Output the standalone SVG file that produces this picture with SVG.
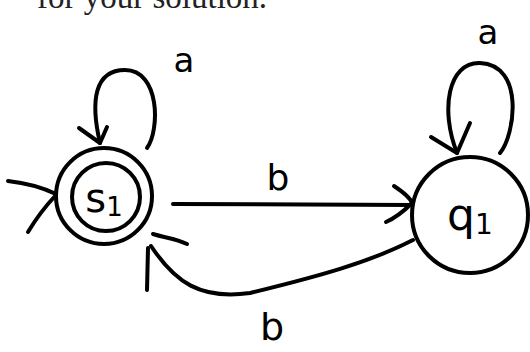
<svg xmlns="http://www.w3.org/2000/svg" width="530" height="352" viewBox="0 0 530 352">
<style>
.ln{fill:none;stroke:#000;stroke-width:4;stroke-linecap:round;stroke-linejoin:round}
.lbl{font-family:"DejaVu Sans","Liberation Sans",sans-serif;fill:#000}
.hdr{font-family:"Liberation Serif",serif;fill:#222;font-size:33px}
</style>
<rect width="530" height="352" fill="#fff"/>
<text class="hdr" x="37" y="8">for your solution.</text>
<g id="connectors">
  <g id="start">
    <path class="ln" d="M8,181 Q35,184 56,194"/>
    <path class="ln" d="M56,195 Q40,212 28,232"/>
  </g>
  <g id="loop-s1">
    <path class="ln" d="M147,148 C160,130 160,70 125,70 C95,70 90,100 100,143"/>
    <path class="ln" d="M79,128 L100,143 L107,127"/>
    <text class="lbl" x="184" y="72" font-size="34" text-anchor="middle">a</text>
  </g>
  <g id="s1-q1">
    <path class="ln" d="M173,204 L412,205"/>
    <path class="ln" d="M394,186 C400,190 410,197 412,203 C405,210 395,218 386,222"/>
    <text class="lbl" x="278" y="190" font-size="36" text-anchor="middle">b</text>
  </g>
  <g id="loop-q1">
    <path class="ln" d="M500,153 C515,135 525,65 480,63 C448,62 440,110 457,153"/>
    <path class="ln" d="M431,137 L457,153 L470,123"/>
    <text class="lbl" x="488" y="44" font-size="34" text-anchor="middle">a</text>
  </g>
  <g id="q1-s1">
    <path class="ln" d="M413,240 C370,262 320,276 250,293 C200,300 175,282 151,246"/>
    <path class="ln" d="M148,248 L147,290"/>
    <path class="ln" d="M153,234 C165,238 175,238 187,244"/>
    <text class="lbl" x="272" y="340" font-size="38" text-anchor="middle">b</text>
  </g>
</g>
<g id="s1">
  <circle class="ln" cx="104" cy="196" r="48"/>
  <circle class="ln" cx="106" cy="197" r="34"/>
  <text class="lbl" x="104" y="212" font-size="40" text-anchor="middle">s<tspan font-size="26" dy="4">1</tspan></text>
</g>
<g id="q1">
  <circle class="ln" cx="470" cy="215" r="58"/>
  <text class="lbl" x="470" y="230" font-size="44" text-anchor="middle">q<tspan font-size="28" dy="4">1</tspan></text>
</g>
</svg>
